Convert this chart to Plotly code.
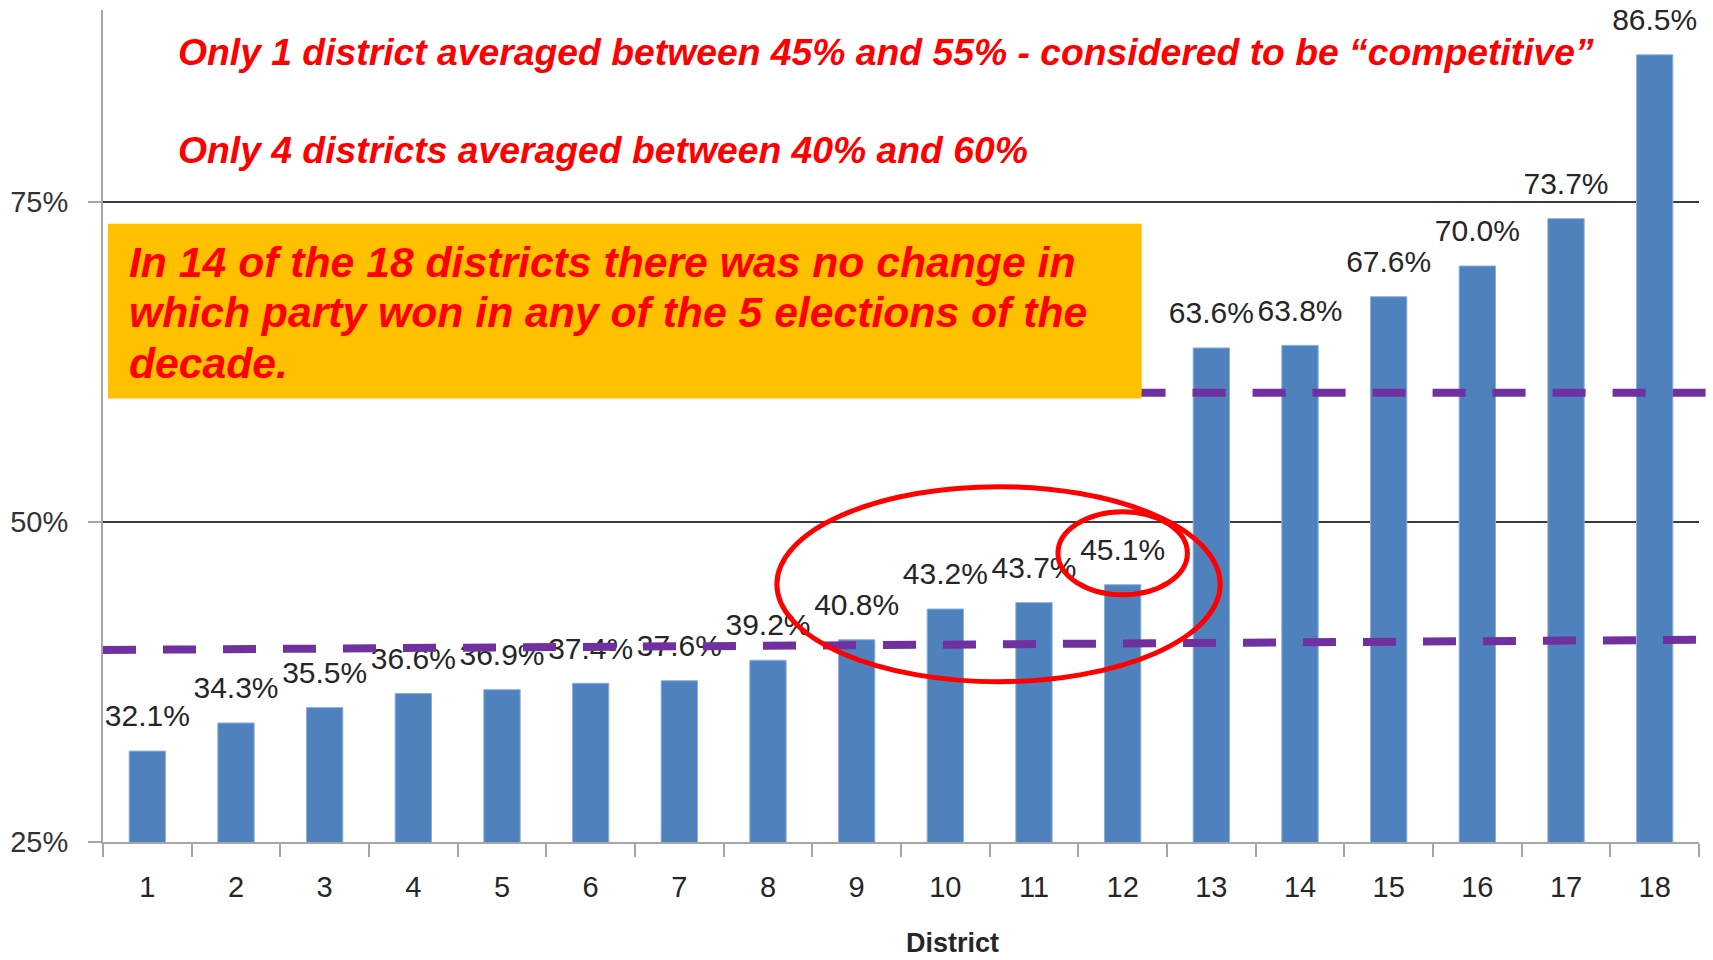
import plotly.graph_objects as go

# ---------------- data ----------------
districts = ["1", "2", "3", "4", "5", "6", "7", "8", "9", "10",
             "11", "12", "13", "14", "15", "16", "17", "18"]
avg_share = [32.1, 34.3, 35.5, 36.6, 36.9, 37.4, 37.6, 39.2, 40.8,
             43.2, 43.7, 45.1, 63.6, 63.8, 67.6, 70.0, 73.7, 86.5]
y_tick_vals = [25, 50, 75]
y_tick_text = ["25%", "50%", "75%"]
lower_band = [40.0, 40.8]   # hand-drawn 40% line (start, end)
upper_band = [60.1, 60.1]   # hand-drawn 60% line (start, end)
note_lines = [
    "Only 1 district averaged between 45% and 55% - considered to be \u201ccompetitive\u201d",
    "Only 4 districts averaged between 40% and 60%",
]
box_lines = [
    "In 14 of the 18 districts there was no change in",
    "which party won in any of the 5 elections of the",
    "decade.",
]
x_title = "District"

# ---------------- styles ----------------
FONT = "Liberation Sans, Arial, sans-serif"
RED = "#FF0000"
BLUE = "#4F81BD"
PURPLE = "#7030A0"
ORANGE = "#FFC000"
TXT = "#262626"

fig = go.Figure()

fig.add_trace(go.Bar(
    x=districts, y=avg_share,
    marker=dict(color=BLUE, line=dict(color="#8DB0DA", width=1)),
    hoverinfo="skip", showlegend=False,
))

fig.add_trace(go.Scatter(
    x=districts, y=avg_share,
    mode="markers+text",
    marker=dict(size=26, opacity=0),
    text=[f"{v:.1f}%" for v in avg_share],
    textposition="top center",
    textfont=dict(family=FONT, size=30, color=TXT),
    cliponaxis=False, hoverinfo="skip", showlegend=False,
))

shapes = [
    dict(type="line", xref="paper", yref="y", x0=0, x1=1.0044,
         y0=lower_band[0], y1=lower_band[1],
         line=dict(color=PURPLE, width=8, dash="33px,27px"), layer="above"),
    dict(type="line", xref="paper", yref="y", x0=0.006, x1=1.0044,
         y0=upper_band[0], y1=upper_band[1],
         line=dict(color=PURPLE, width=8, dash="33px,27px"), layer="above"),
    dict(type="rect", xref="paper", yref="paper", x0=0.0031, x1=0.6508,
         y0=0.5332, y1=0.7431, fillcolor=ORANGE, line=dict(width=0), layer="above"),
    dict(type="circle", xref="x", yref="y", x0=7.10, x1=12.10, y0=37.52, y1=52.76,
         line=dict(color=RED, width=5), layer="above"),
    dict(type="circle", xref="x", yref="y", x0=10.27, x1=11.73, y0=44.32, y1=50.8,
         line=dict(color=RED, width=5), layer="above"),
]

annotations = []
for txt, yp in zip(note_lines, [0.949, 0.832]):
    annotations.append(dict(
        xref="paper", yref="paper", x=0.0455, y=yp, xanchor="left", yanchor="middle",
        text=txt, showarrow=False,
        font=dict(family=FONT, size=37.3, color=RED, weight="bold", style="italic"),
    ))
for txt, yp in zip(box_lines, [0.6971, 0.6369, 0.5756]):
    annotations.append(dict(
        xref="paper", yref="paper", x=0.0150, y=yp, xanchor="left", yanchor="middle",
        text=txt, showarrow=False,
        font=dict(family=FONT, size=42.7, color=RED, weight="bold", style="italic"),
    ))
annotations.append(dict(
    xref="paper", yref="paper", x=0.532, y=-0.121, xanchor="center", yanchor="middle",
    text=x_title, showarrow=False,
    font=dict(family=FONT, size=27, color=TXT, weight="bold"),
))

fig.update_layout(
    width=1713, height=960,
    margin=dict(l=103, r=14, t=10, b=118, autoexpand=False),
    paper_bgcolor="white", plot_bgcolor="white",
    bargap=0.59,
    shapes=shapes, annotations=annotations,
    showlegend=False,
    xaxis=dict(
        type="category", range=[-0.5, 17.5], automargin=False,
        showline=True, linecolor="#A6A6A6", linewidth=2,
        ticks="outside", tickson="boundaries", ticklen=13, tickwidth=2, tickcolor="#A6A6A6",
        tickfont=dict(family=FONT, size=29, color=TXT), ticklabelstandoff=18,
        showgrid=False, zeroline=False,
    ),
    yaxis=dict(
        range=[25, 90], tickvals=y_tick_vals, ticktext=y_tick_text, automargin=False,
        showgrid=True, gridcolor="#3A3A3A", gridwidth=2,
        showline=True, linecolor="#A6A6A6", linewidth=2,
        ticks="outside", ticklen=13, tickwidth=2, tickcolor="#A6A6A6",
        tickfont=dict(family=FONT, size=29, color="#333333"), ticklabelstandoff=14,
        zeroline=False,
    ),
)

fig.write_html("out.html", config={"displayModeBar": False},
               post_script="document.body.style.margin='0';document.body.style.overflow='hidden';")
